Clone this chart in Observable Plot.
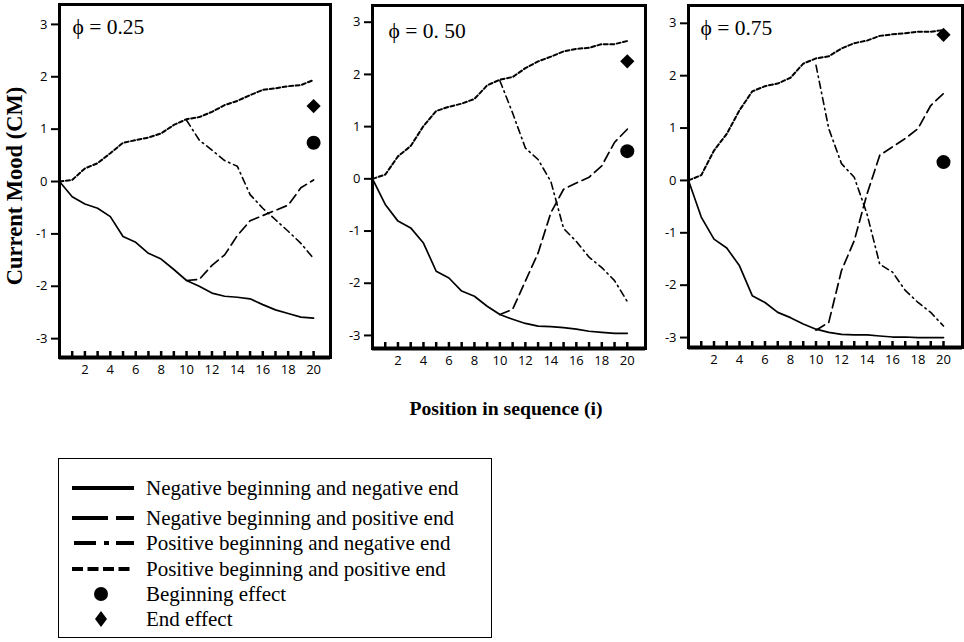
<!DOCTYPE html>
<html><head><meta charset="utf-8">
<script src="https://cdn.jsdelivr.net/npm/d3@7"></script>
<script src="https://cdn.jsdelivr.net/npm/@observablehq/plot@0.6"></script>
<style>
body{margin:0;background:#fff;}
#wrap{position:relative;width:964px;height:642px;overflow:hidden;background:#fff;}
.panel{position:absolute;top:0;}
.ytitle{position:absolute;left:15px;top:186px;transform:translate(-50%,-50%) rotate(-90deg);font-family:"Liberation Serif","Times New Roman",serif;font-weight:bold;font-size:22.5px;white-space:nowrap;}
.xtitle{position:absolute;left:506px;top:408px;transform:translate(-50%,-50%);font-family:"Liberation Serif","Times New Roman",serif;font-weight:bold;font-size:19.7px;white-space:nowrap;}
#legend{position:absolute;left:58px;top:458px;width:434px;height:180px;border:1.5px solid #000;box-sizing:border-box;font-family:"Liberation Serif","Times New Roman",serif;font-size:21px;}
.lrow{position:absolute;left:0;height:24px;width:430px;}
.lrow svg{position:absolute;left:12px;top:0;}
.lrow span{position:absolute;left:87px;top:50%;transform:translateY(-50%);white-space:nowrap;}
</style></head><body><div id="wrap"></div>
<script>
// ---- data ----
const positions = [0,1,2,3,4,5,6,7,8,9,10,11,12,13,14,15,16,17,18,19,20];
const laterPositions = [10,11,12,13,14,15,16,17,18,19,20];
const xTicks = [1,2,3,4,5,6,7,8,9,10,11,12,13,14,15,16,17,18,19,20];
const xTickLabels = [2,4,6,8,10,12,14,16,18,20];
const yTicks = [-3,-2,-1,0,1,2,3];
const phiLabels = ["\u03D5 = 0.25", "\u03D5 = 0. 50", "\u03D5 = 0.75"];

const negNeg25 = [0,-0.29,-0.43,-0.51,-0.67,-1.05,-1.16,-1.37,-1.48,-1.68,-1.89,-2.0,-2.13,-2.19,-2.21,-2.24,-2.35,-2.45,-2.52,-2.59,-2.61];
const posPos25 = [0,0.03,0.25,0.35,0.54,0.74,0.79,0.84,0.92,1.08,1.19,1.23,1.33,1.46,1.54,1.65,1.75,1.78,1.82,1.84,1.94];
const posNeg25 = [1.17,0.79,0.6,0.4,0.29,-0.25,-0.51,-0.73,-0.95,-1.18,-1.47];
const negPos25 = [-1.89,-1.87,-1.6,-1.4,-1.03,-0.75,-0.65,-0.55,-0.45,-0.12,0.03];

const negNeg50 = [0,-0.49,-0.81,-0.94,-1.23,-1.77,-1.9,-2.15,-2.25,-2.44,-2.6,-2.69,-2.77,-2.82,-2.83,-2.85,-2.88,-2.92,-2.94,-2.96,-2.96];
const posPos50 = [0,0.08,0.43,0.63,1.01,1.3,1.38,1.44,1.53,1.79,1.9,1.95,2.12,2.25,2.34,2.44,2.49,2.51,2.58,2.58,2.64];
const posNeg50 = [1.88,1.26,0.59,0.37,-0.05,-0.95,-1.2,-1.5,-1.7,-1.95,-2.35];
const negPos50 = [-2.6,-2.5,-1.96,-1.42,-0.65,-0.2,-0.08,0.03,0.25,0.7,0.95];

const negNeg75 = [0,-0.7,-1.12,-1.29,-1.63,-2.2,-2.33,-2.52,-2.62,-2.74,-2.84,-2.9,-2.94,-2.95,-2.95,-2.97,-2.99,-2.99,-3.0,-3.0,-3.0];
const posPos75 = [0,0.1,0.57,0.89,1.34,1.7,1.8,1.85,1.96,2.23,2.33,2.37,2.52,2.62,2.67,2.76,2.79,2.81,2.84,2.84,2.87];
const posNeg75 = [2.2,0.99,0.32,0.06,-0.64,-1.6,-1.75,-2.1,-2.33,-2.52,-2.78];
const negPos75 = [-2.86,-2.71,-1.72,-1.15,-0.26,0.48,0.64,0.8,0.99,1.43,1.66];

const beginEffect = [0.74, 0.53, 0.35];
const endEffect = [1.44, 2.25, 2.78];

const legendLabels = [
  "Negative beginning and negative end",
  "Negative beginning and positive end",
  "Positive beginning and negative end",
  "Positive beginning and positive end",
  "Beginning effect",
  "End effect"
];

// ---- layout (pixels) ----
const frames = [
  {left:59, right:330, top:4, bottom:357, yDomain:[-3.36,3.38], xMax:21.33},
  {left:372, right:645, top:5, bottom:348, yDomain:[-3.25,3.32], xMax:21.43},
  {left:688, right:962, top:5, bottom:347, yDomain:[-3.19,3.34], xMax:21.49}
];
const labelOffsets = [{dx:13,dy:23},{dx:16,dy:26},{dx:12,dy:23}];
const seriesSets = [
  [negNeg25,posPos25,posNeg25,negPos25],
  [negNeg50,posPos50,posNeg50,negPos50],
  [negNeg75,posPos75,posNeg75,negPos75]
];
const styles = {
  negNeg:{strokeWidth:1.7},
  negPos:{strokeWidth:1.7, strokeDasharray:"10,5"},
  posNeg:{strokeWidth:1.6, strokeDasharray:"7,4,1.5,4"},
  posPos:{strokeWidth:2, strokeDasharray:"4,2.5"}
};

const wrap = document.getElementById("wrap");
const ML = 59, MR = 3, MB = 25;

frames.forEach((f, p) => {
  const [nn, pp, pn, np] = seriesSets[p];
  const full = (arr) => positions.map((x,i) => ({x, y: arr[i]}));
  const late = (arr) => laterPositions.map((x,i) => ({x, y: arr[i]}));
  const innerH = f.bottom - f.top;
  const tickLen = 6 * (f.yDomain[1] - f.yDomain[0]) / innerH;
  const chart = Plot.plot({
    width: ML + (f.right - f.left) + MR,
    height: f.bottom + MB,
    marginLeft: ML, marginRight: MR, marginTop: f.top, marginBottom: MB,
    x: {domain:[0, f.xMax]},
    y: {domain:f.yDomain},
    style: {fontFamily:"'Open Sans', sans-serif", fontSize:"13px", color:"#000", background:"transparent"},
    marks: [
      Plot.axisY({ticks: yTicks, tickSize: 8, tickPadding: 4, strokeWidth: 2, tickFormat: d => String(d), label: null}),
      Plot.axisX({ticks: xTickLabels, tickSize: 0, tickPadding: 7, tickFormat: d => String(d), label: null}),
      Plot.ruleX(xTicks, {x: d => d, y1: f.yDomain[0], y2: f.yDomain[0] + tickLen, strokeWidth: 2.5, stroke:"#000"}),
      Plot.line(full(nn), {x:"x", y:"y", stroke:"#000", ...styles.negNeg}),
      Plot.line(full(pp), {x:"x", y:"y", stroke:"#000", ...styles.posPos}),
      Plot.line(late(pn), {x:"x", y:"y", stroke:"#000", ...styles.posNeg}),
      Plot.line(late(np), {x:"x", y:"y", stroke:"#000", ...styles.negPos}),
      Plot.dot([beginEffect[p]], {x: () => 20, y: d => d, r: 7, fill:"#000", stroke:"none"}),
      Plot.dot([endEffect[p]], {x: () => 20, y: d => d, r: 6.4, symbol:"diamond2", fill:"#000", stroke:"none"}),
      Plot.text([phiLabels[p]], {text: d => d, frameAnchor:"top-left", dx: labelOffsets[p].dx, dy: labelOffsets[p].dy, textAnchor:"start", lineAnchor:"middle", fontSize: 21.5, fontFamily:"'Liberation Serif', 'Times New Roman', serif"}),
      Plot.frame({stroke:"#000", strokeWidth: 3}),
      Plot.ruleY([f.yDomain[0]], {stroke:"#000", strokeWidth: 4})
    ]
  });
  chart.classList.add("panel");
  chart.style.left = (f.left - ML) + "px";
  wrap.appendChild(chart);
});

const yt = document.createElement("div"); yt.className = "ytitle"; yt.textContent = "Current Mood (CM)"; wrap.appendChild(yt);
const xt = document.createElement("div"); xt.className = "xtitle"; xt.textContent = "Position in sequence (i)"; wrap.appendChild(xt);

// legend
const legend = document.createElement("div"); legend.id = "legend"; wrap.appendChild(legend);
const rowCenters = [29, 59, 84, 110, 135, 160];
const swatches = [
  '<line x1="1" y1="12" x2="63" y2="12" stroke="#000" stroke-width="4"/>',
  '<line x1="1" y1="12" x2="37" y2="12" stroke="#000" stroke-width="4"/><line x1="45" y1="12" x2="63" y2="12" stroke="#000" stroke-width="4"/>',
  '<line x1="3" y1="12" x2="25" y2="12" stroke="#000" stroke-width="4"/><line x1="33" y1="12" x2="38" y2="12" stroke="#000" stroke-width="4"/><line x1="45" y1="12" x2="63" y2="12" stroke="#000" stroke-width="4"/>',
  '<line x1="1" y1="12" x2="63" y2="12" stroke="#000" stroke-width="4" stroke-dasharray="11,4.5"/>',
  '<circle cx="30" cy="12" r="7" fill="#000"/>',
  '<path d="M30,4 L36,12 L30,20 L24,12 Z" fill="#000"/>'
];
legendLabels.forEach((lab, i) => {
  const row = document.createElement("div");
  row.className = "lrow";
  row.style.top = (rowCenters[i] - 12) + "px";
  row.innerHTML = `<svg width="66" height="24">${swatches[i]}</svg><span>${lab}</span>`;
  legend.appendChild(row);
});
</script></body></html>
